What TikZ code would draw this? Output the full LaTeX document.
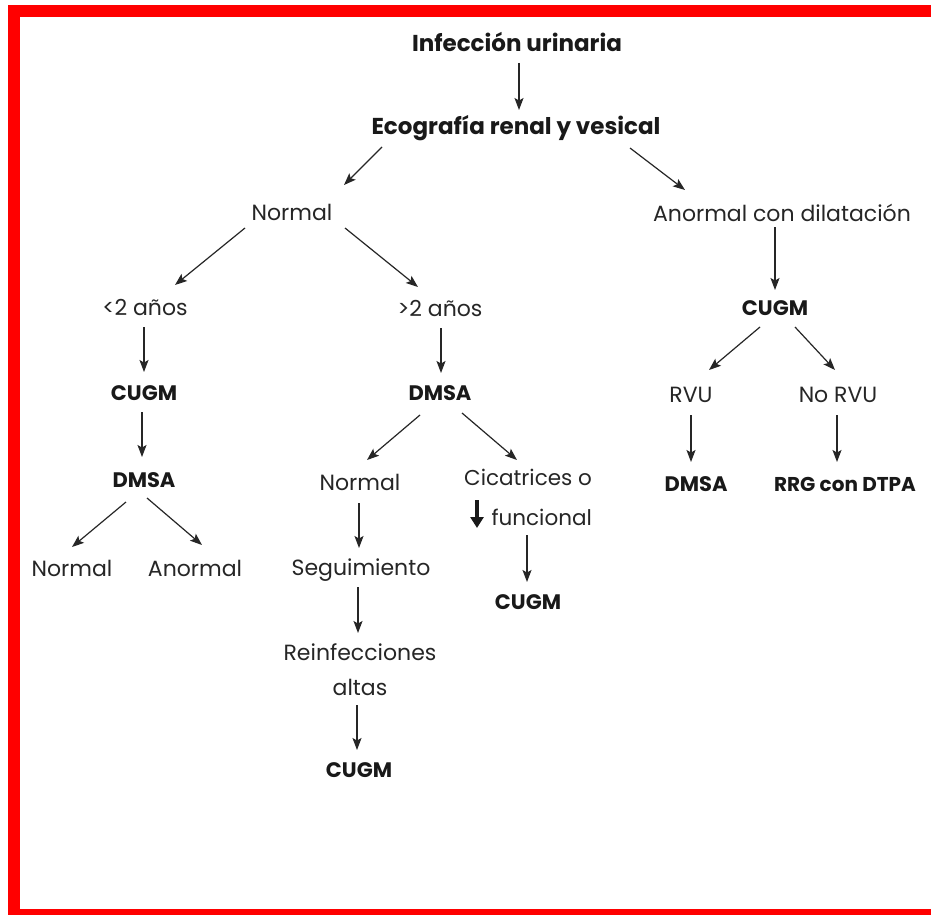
\documentclass[tikz,border=0pt]{standalone}
\usepackage{fontspec}
\setmainfont{Poppins}
\usetikzlibrary{arrows.meta,calc}
\begin{document}
\begin{tikzpicture}[x=1pt,y=-1pt,
  lbl/.style={font=\fontsize{22}{26}\selectfont, inner sep=0pt, anchor=center, text=black!85},
  blbl/.style={font=\fontsize{21}{25}\selectfont\bfseries, inner sep=0pt, anchor=center, text=black!90},
  tlbl/.style={font=\fontsize{23}{27}\selectfont\bfseries, inner sep=0pt, anchor=center, text=black!90},
  arr/.style={line width=1.2pt, draw=black!85, -{Stealth[length=12pt,width=9pt,inset=2.5pt]}},
  frame/.style={fill={rgb,255:red,255;green,0;blue,0}, draw=none}]
\useasboundingbox (0,0) rectangle (931,915);
\fill[white] (0,0) rectangle (931,915);
% red frame
\path[frame] (8,5) rectangle (20,915);
\path[frame] (8,5) rectangle (931,17);
\path[frame] (8,909) rectangle (931,915);

% nodes
\node[tlbl] (inf) at (517,42) {Infección urinaria};
\node[tlbl] (eco) at (516,128) {Ecografía renal y vesical};
\node[lbl] (n1) at (292,212) {Normal};
\node[lbl] (anor) at (782,213) {Anormal con dilatación};
\node[lbl] (lt2) at (145,308) {<2 años};
\node[lbl] (gt2) at (440,309) {>2 años};
\node[blbl] (cugm1) at (144,393) {CUGM};
\node[blbl] (dmsa1) at (144,480) {DMSA};
\node[lbl] (norm2) at (72,568) {Normal};
\node[lbl] (anorm2) at (195,568) {Anormal};
\node[blbl] (dmsa2) at (440,393) {DMSA};
\node[lbl] (norm3) at (360,482) {Normal};
\node[lbl, align=right, font=\fontsize{21.5}{40}\selectfont] (cic) at (528,497) {Cicatrices o\\funcional};
\node[lbl] (seg) at (361,570) {Seguimiento};
\node[lbl, align=center, font=\fontsize{22}{35}\selectfont] (reinf) at (360,670) {Reinfecciones\\altas};
\node[blbl] (cugm3) at (359,770) {CUGM};
\node[blbl] (cugm2) at (528,602) {CUGM};
\node[blbl] (cugmr) at (775,308) {CUGM};
\node[lbl] (rvu) at (691,395) {RVU};
\node[lbl] (norvu) at (838,395) {No RVU};
\node[blbl] (dmsar) at (696,484) {DMSA};
\node[blbl, font=\fontsize{20}{24}\selectfont\bfseries] (rrg) at (845,484) {RRG con DTPA};

% thick down arrow in "Cicatrices o / funcional"
\draw[line width=4.5pt, draw=black!90, -{Triangle[length=11pt,width=13pt]}] ($(cic)+(-51,3)$) -- ($(cic)+(-51,31)$);

% connectors
\draw[arr] ($(inf)+(2,21)$) -- ($(eco)+(3,-18)$);
\draw[arr] ($(eco)+(-134,19)$) -- ($(n1)+(52,-27)$);
\draw[arr] ($(eco)+(114,20)$) -- ($(anor)+(-97,-23)$);
\draw[arr] ($(n1)+(-47,16)$) -- ($(lt2)+(30,-23)$);
\draw[arr] ($(n1)+(53,16)$) -- ($(gt2)+(-22,-22)$);
\draw[arr] ($(lt2)+(-1,19)$) -- ($(cugm1)+(0,-21)$);
\draw[arr] ($(cugm1)+(-2,19)$) -- ($(dmsa1)+(-2,-23)$);
\draw[arr] ($(dmsa1)+(-18,22)$) -- ($(norm2)+(0,-21)$);
\draw[arr] ($(dmsa1)+(3,18)$) -- ($(anorm2)+(7,-23)$);
\draw[arr] ($(gt2)+(1,19)$) -- ($(dmsa2)+(1,-20)$);
\draw[arr] ($(dmsa2)+(-20,22)$) -- ($(norm3)+(7,-22)$);
\draw[arr] ($(dmsa2)+(22,20)$) -- ($(cic)+(-11,-37)$);
\draw[arr] ($(norm3)+(-1,21)$) -- ($(seg)+(-2,-22)$);
\draw[arr] ($(seg)+(-3,17)$) -- ($(reinf)+(-2,-37)$);
\draw[arr] ($(reinf)+(-3,35)$) -- ($(cugm3)+(-2,-20)$);
\draw[arr] ($(cic)+(-1,38)$) -- ($(cugm2)+(-1,-20)$);
\draw[arr] ($(anor)+(-7,14)$) -- ($(cugmr)+(0,-18)$);
\draw[arr] ($(cugmr)+(-15,19)$) -- ($(rvu)+(18,-25)$);
\draw[arr] ($(cugmr)+(20,19)$) -- ($(norvu)+(-3,-25)$);
\draw[arr] ($(rvu)+(0,20)$) -- ($(dmsar)+(-5,-22)$);
\draw[arr] ($(norvu)+(-1,20)$) -- ($(rrg)+(-8,-22)$);
\end{tikzpicture}
\end{document}
